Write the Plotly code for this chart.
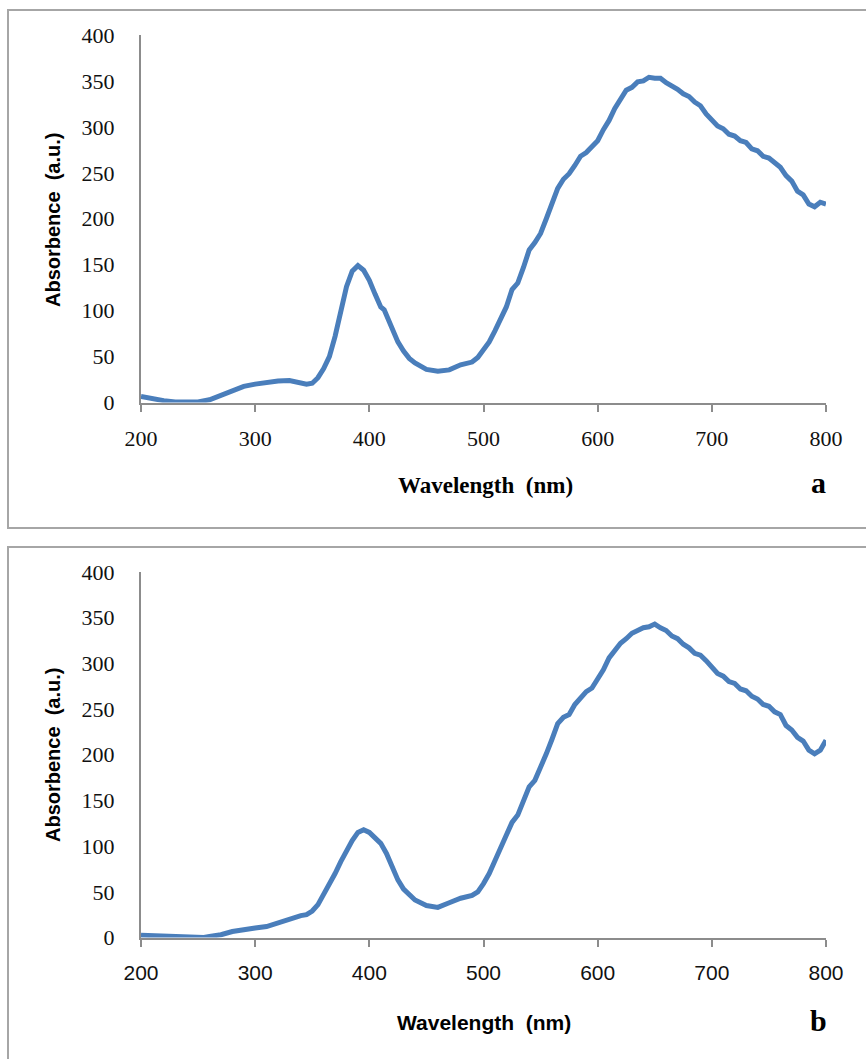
import plotly.graph_objects as go

W, H = 866, 1059

# ---------------- data ----------------
wl_a = [200, 210, 220, 230, 240, 250, 260, 270, 280, 290, 300, 310, 320, 330, 335, 340, 345, 350,
        355, 360, 365, 370, 375, 380, 385, 390, 395, 400, 405, 410, 413, 418, 425, 430, 435, 440,
        450, 460, 470, 480, 490, 495, 500, 505, 510, 515, 520, 525, 530, 535, 540, 545, 550, 555,
        560, 565, 570, 575, 580, 585, 590, 595, 600, 605, 610, 615, 620, 625, 630, 635, 640, 645,
        650, 655, 660, 665, 670, 675, 680, 685, 690, 695, 700, 705, 710, 715, 720, 725, 730, 735,
        740, 745, 750, 755, 760, 765, 770, 775, 780, 785, 790, 795, 800]
abs_a = [6.5, 4, 2, 0.5, 0, 0.5, 3, 8, 13, 17.5, 20, 22, 23.5, 24, 23, 21, 20, 21,
         27, 37, 50, 72, 100, 126, 143, 149, 144, 133, 118, 104, 101, 85, 66, 56, 48, 43,
         36, 34, 35.5, 41, 44, 49, 57, 66, 78, 91, 104, 123, 130, 147, 166, 174, 184, 200,
         216, 233, 243, 249, 258, 268, 272, 279, 285, 297, 307, 320, 329, 340, 343, 349, 350, 354,
         353, 353, 348, 345, 341, 336, 333, 327, 323, 314, 308, 301, 298, 292, 290, 285, 283, 276,
         274, 268, 266, 261, 256, 247, 241, 230, 226, 216, 213, 218, 216]

wl_b = [200, 210, 220, 225, 230, 240, 250, 255, 260, 270, 280, 290, 300, 310, 320, 330, 340, 345,
        350, 355, 360, 365, 370, 375, 380, 385, 390, 395, 400, 405, 410, 415, 420, 425, 430, 435,
        440, 450, 460, 470, 480, 490, 495, 500, 505, 510, 515, 520, 525, 530, 535, 540, 545, 550,
        555, 560, 565, 570, 575, 580, 585, 590, 595, 600, 605, 610, 615, 620, 625, 630, 635, 640,
        645, 650, 655, 660, 665, 670, 675, 680, 685, 690, 695, 700, 705, 710, 715, 720, 725, 730,
        735, 740, 745, 750, 755, 760, 765, 770, 775, 780, 785, 790, 795, 800]
abs_b = [2.5, 2, 2, 1, 0.5, 0, 0, 0, 1, 3, 6.5, 9, 10.5, 12, 16, 21, 24, 25,
         29, 36, 47, 58, 70, 83, 95, 106, 115, 118, 115, 108, 103, 92, 77, 63, 53, 46,
         41, 35, 33, 38, 43, 46, 50, 59, 70, 84, 98, 111, 126, 134, 148, 165, 172, 185,
         201, 217, 234, 241, 244, 255, 262, 269, 273, 283, 293, 306, 314, 322, 327, 333, 336, 339,
         340, 343, 339, 336, 330, 327, 321, 317, 311, 309, 303, 296, 289, 286, 280, 278, 272, 270,
         264, 261, 255, 253, 247, 244, 232, 227, 219, 215, 205, 201, 205, 216]

x_ticks = [200, 300, 400, 500, 600, 700, 800]
y_ticks = [0, 50, 100, 150, 200, 250, 300, 350, 400]

x_title = "Wavelength  (nm)"
y_title = "Absorbence  (a.u.)"
panel_labels = ["a", "b"]

# ---------------- style ----------------
LINE = "#4a7ebb"
AX = "#8c8c8c"
BORDER = "#a6a6a6"
SERIF = "Liberation Serif"
SANS = "Liberation Sans"


def px_x(p):
    return p / W


def px_y(p):
    return 1 - p / H


fig = go.Figure()
fig.add_trace(go.Scatter(x=wl_a, y=abs_a, mode="lines", xaxis="x", yaxis="y",
                         line=dict(color=LINE, width=5), showlegend=False))
fig.add_trace(go.Scatter(x=wl_b, y=abs_b, mode="lines", xaxis="x2", yaxis="y2",
                         line=dict(color=LINE, width=5), showlegend=False))

xdom = [px_x(141), px_x(826)]


def xaxis(font_family, anchor, size):
    return dict(domain=xdom, range=[200, 800], tickvals=x_ticks, ticks="outside",
                ticklen=7, tickwidth=2, tickcolor=AX, showline=True, linecolor=AX,
                linewidth=2, showgrid=False, zeroline=False, anchor=anchor,
                automargin=False,
                tickfont=dict(family=font_family, size=size, color="#111"),
                ticklabelstandoff=8, fixedrange=True)


def yaxis(dom, anchor):
    return dict(domain=dom, range=[0, 400], tickvals=y_ticks, ticks="",
                showline=True, linecolor=AX, linewidth=2, showgrid=False,
                zeroline=False, anchor=anchor, automargin=False,
                tickfont=dict(family=SERIF, size=22, color="#111"),
                ticklabelstandoff=20, fixedrange=True)


def ann(text, x, y, family, size, angle=0):
    return dict(text=text, xref="paper", yref="paper", x=px_x(x), y=px_y(y),
                xanchor="center", yanchor="middle", showarrow=False, textangle=angle,
                font=dict(family=family, size=size, color="#000"))


def border_path(top, left, bottom, has_bottom):
    xl, yt = px_x(left), px_y(top)
    if has_bottom:
        yb = px_y(bottom)
        return f"M 1,{yt} L {xl},{yt} L {xl},{yb} L 1,{yb}"
    return f"M 1,{yt} L {xl},{yt} L {xl},0"


fig.update_layout(
    width=W, height=H, autosize=False,
    margin=dict(l=0, r=0, t=0, b=0, pad=0),
    paper_bgcolor="white", plot_bgcolor="white",
    xaxis=xaxis(SERIF, "y", 22),
    yaxis=yaxis([px_y(402.5), px_y(35)], "x"),
    xaxis2=xaxis(SANS, "y2", 21),
    yaxis2=yaxis([px_y(937.5), px_y(572)], "x2"),
    shapes=[
        dict(type="path", xref="paper", yref="paper", path=border_path(10, 8, 528, True),
             line=dict(color=BORDER, width=2), layer="below"),
        dict(type="path", xref="paper", yref="paper", path=border_path(547, 8, None, False),
             line=dict(color=BORDER, width=2), layer="below"),
    ],
    annotations=[
        ann("<b>" + x_title + "</b>", 485, 485, SERIF, 23),
        ann("<b>" + y_title + "</b>", 53, 220, SANS, 20, -90),
        ann("<b>" + panel_labels[0] + "</b>", 818, 483, SERIF, 30),
        ann("<b>" + x_title + "</b>", 484, 1022, SANS, 21),
        ann("<b>" + y_title + "</b>", 53, 755, SANS, 20, -90),
        ann("<b>" + panel_labels[1] + "</b>", 818, 1020, SERIF, 30),
    ],
)

fig.write_html("out.html")
